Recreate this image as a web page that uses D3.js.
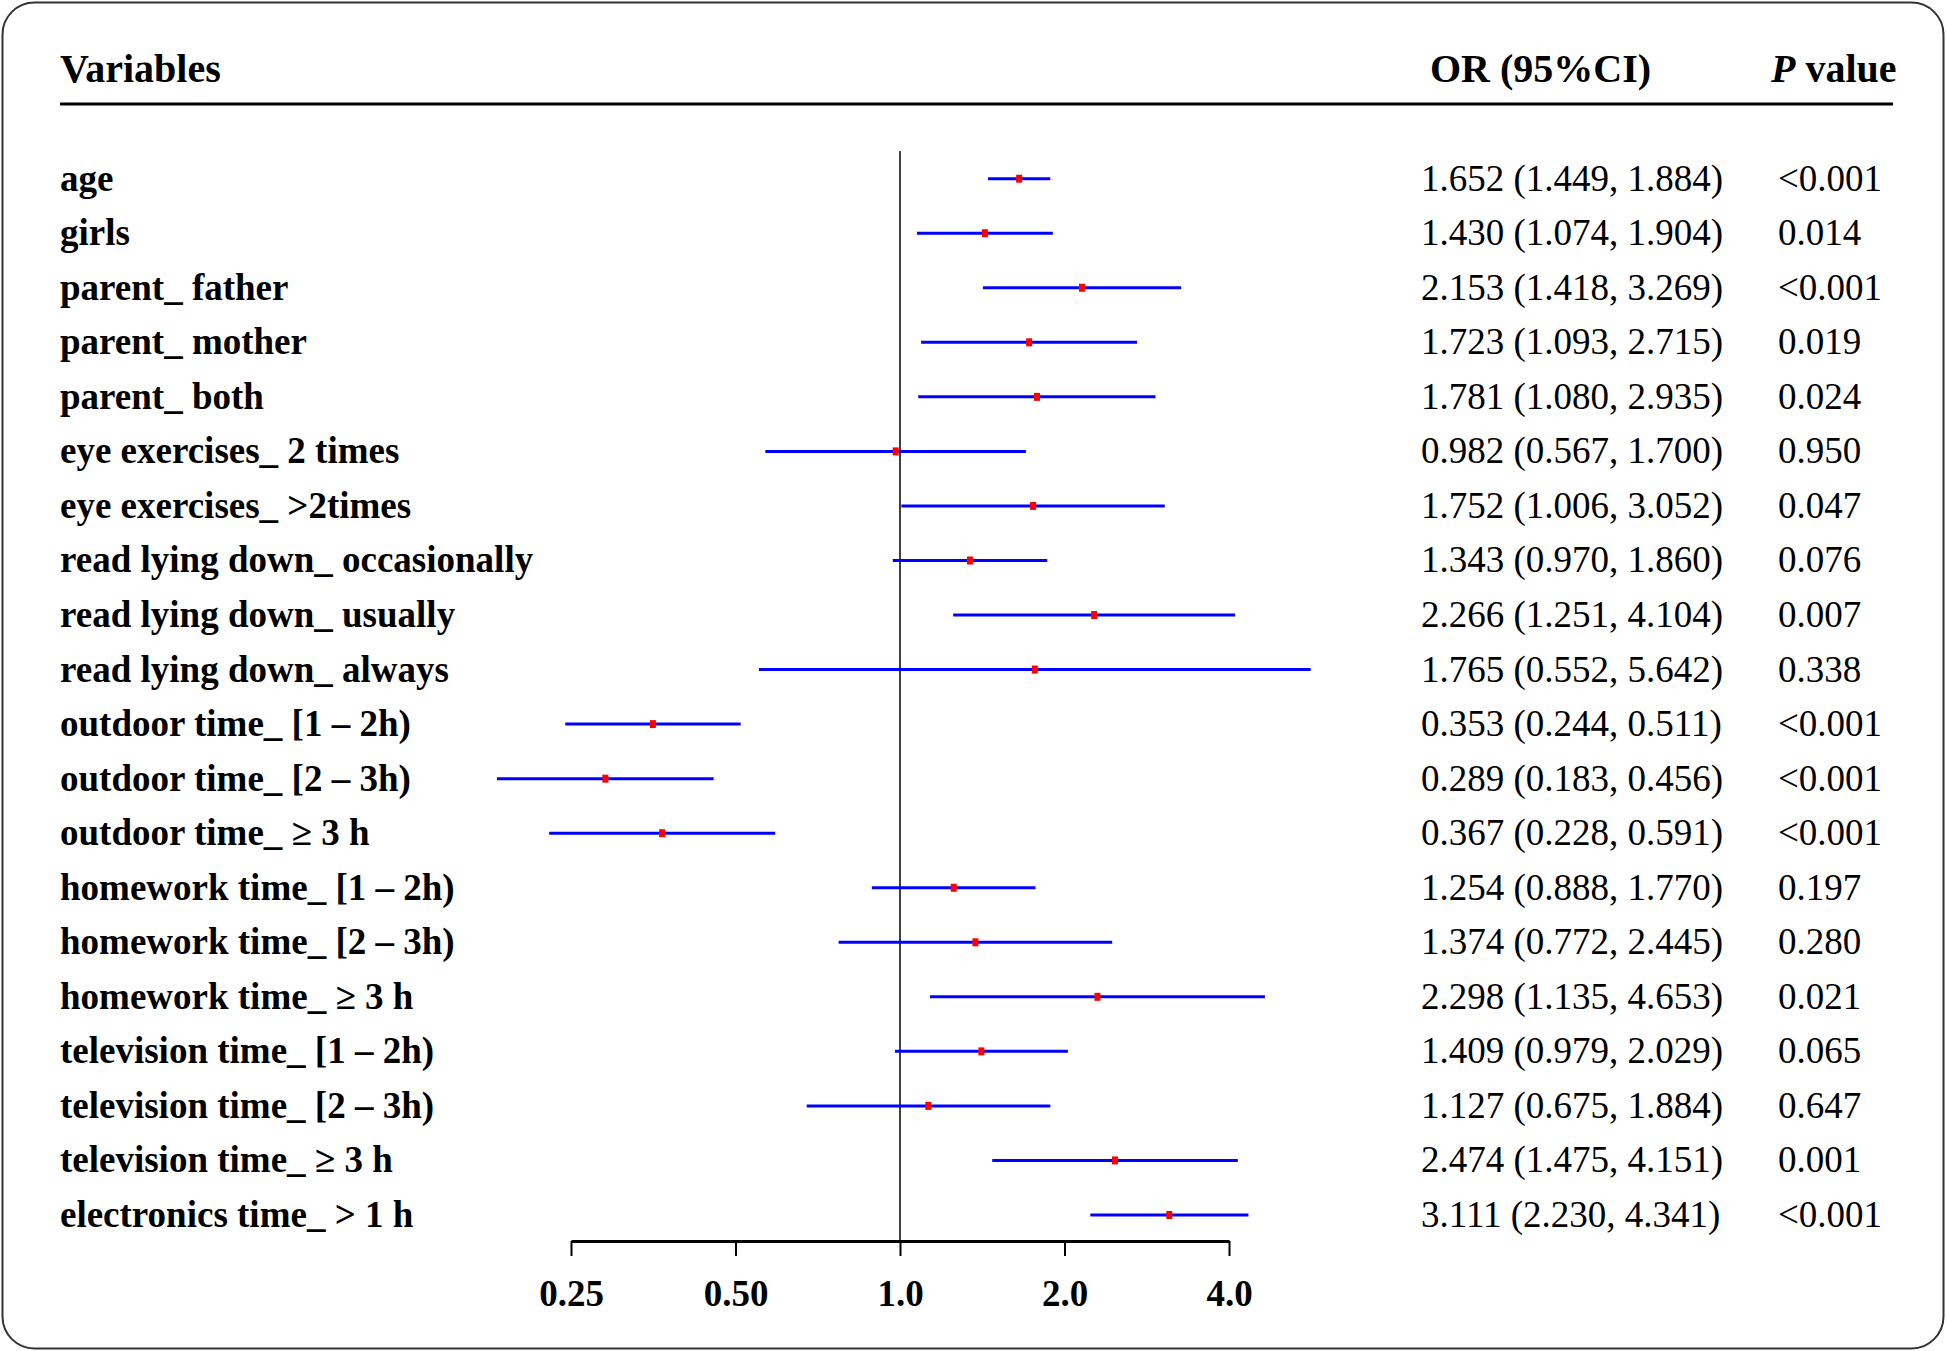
<!DOCTYPE html>
<html>
<head>
<meta charset="utf-8">
<script src="https://cdn.jsdelivr.net/npm/d3@7"></script>
<style>
  html, body { margin: 0; padding: 0; background: #fff; }
  svg { display: block; }
  text { font-family: "Liberation Serif", "Times New Roman", serif; fill: #000; }
</style>
</head>
<body>
<svg id="chart" width="1946" height="1351"></svg>
<script>
const variables = [
  "age", "girls", "parent_ father", "parent_ mother", "parent_ both",
  "eye exercises_ 2 times", "eye exercises_ >2times",
  "read lying down_ occasionally", "read lying down_ usually", "read lying down_ always",
  "outdoor time_ [1 – 2h)", "outdoor time_ [2 – 3h)", "outdoor time_ ≥ 3 h",
  "homework time_ [1 – 2h)", "homework time_ [2 – 3h)", "homework time_ ≥ 3 h",
  "television time_ [1 – 2h)", "television time_ [2 – 3h)", "television time_ ≥ 3 h",
  "electronics time_ > 1 h"
];
const oddsRatio = [1.652, 1.430, 2.153, 1.723, 1.781, 0.982, 1.752, 1.343, 2.266, 1.765,
                   0.353, 0.289, 0.367, 1.254, 1.374, 2.298, 1.409, 1.127, 2.474, 3.111];
const ciLower   = [1.449, 1.074, 1.418, 1.093, 1.080, 0.567, 1.006, 0.970, 1.251, 0.552,
                   0.244, 0.183, 0.228, 0.888, 0.772, 1.135, 0.979, 0.675, 1.475, 2.230];
const ciUpper   = [1.884, 1.904, 3.269, 2.715, 2.935, 1.700, 3.052, 1.860, 4.104, 5.642,
                   0.511, 0.456, 0.591, 1.770, 2.445, 4.653, 2.029, 1.884, 4.151, 4.341];
const pValues   = ["<0.001", "0.014", "<0.001", "0.019", "0.024", "0.950", "0.047", "0.076", "0.007", "0.338",
                   "<0.001", "<0.001", "<0.001", "0.197", "0.280", "0.021", "0.065", "0.647", "0.001", "<0.001"];
const tickValues = [0.25, 0.5, 1, 2, 4];
const tickLabels = ["0.25", "0.50", "1.0", "2.0", "4.0"];

const rows = variables.map((v, i) => ({
  name: v, or: oddsRatio[i], lo: ciLower[i], hi: ciUpper[i], p: pValues[i]
}));
const fmt = d3.format(".3f");

const svg = d3.select("#chart");

// frame
svg.append("rect")
  .attr("x", 2.5).attr("y", 2.5).attr("width", 1941).attr("height", 1346)
  .attr("rx", 32).attr("ry", 32)
  .attr("fill", "#fff").attr("stroke", "#333").attr("stroke-width", 2);

const x = d3.scaleLog().base(2).domain([0.25, 4]).range([571, 1229]);
const y = d3.scalePoint().domain(variables).range([178.7, 1215]);

// header
const hy = 82;
svg.append("text").attr("x", 60).attr("y", hy)
  .attr("font-size", 40).attr("font-weight", "bold").text("Variables");
svg.append("text").attr("x", 1430).attr("y", hy)
  .attr("font-size", 40).attr("font-weight", "bold").text("OR (95%CI)");
const pv = svg.append("text").attr("x", 1771).attr("y", hy)
  .attr("font-size", 40).attr("font-weight", "bold");
pv.append("tspan").attr("font-style", "italic").text("P");
pv.append("tspan").text(" value");

svg.append("line").attr("x1", 60).attr("x2", 1893).attr("y1", 104).attr("y2", 104)
  .attr("stroke", "#000").attr("stroke-width", 3);

// reference line at OR = 1
svg.append("line")
  .attr("x1", x(1)).attr("x2", x(1)).attr("y1", 151).attr("y2", 1241)
  .attr("stroke", "#000").attr("stroke-width", 1.5);

// axis
const axis = d3.axisBottom(x)
  .tickValues(tickValues)
  .tickFormat((d, i) => tickLabels[i])
  .tickSize(15).tickSizeOuter(0).tickPadding(24);
const ax = svg.append("g").attr("transform", "translate(0,1241)").call(axis);
ax.select(".domain").attr("stroke", "#000").attr("stroke-width", 3);
ax.selectAll(".tick line").attr("stroke", "#000").attr("stroke-width", 2);
ax.selectAll(".tick text")
  .attr("font-family", "'Liberation Serif', 'Times New Roman', serif")
  .attr("font-size", 37).attr("font-weight", "bold").attr("fill", "#000");

// rows
const g = svg.append("g");
const row = g.selectAll("g.row").data(rows).join("g").attr("class", "row");

row.append("text").attr("x", 60).attr("y", d => y(d.name) + 12)
  .attr("font-size", 37).attr("font-weight", "bold").text(d => d.name);

row.append("line")
  .attr("x1", d => x(d.lo)).attr("x2", d => x(d.hi))
  .attr("y1", d => y(d.name)).attr("y2", d => y(d.name))
  .attr("stroke", "#0000ff").attr("stroke-width", 3);

row.append("rect")
  .attr("x", d => x(d.or) - 3).attr("y", d => y(d.name) - 4)
  .attr("width", 6).attr("height", 8).attr("fill", "#ff0000");

row.append("text").attr("x", 1421).attr("y", d => y(d.name) + 12)
  .attr("font-size", 37)
  .text(d => `${fmt(d.or)} (${fmt(d.lo)}, ${fmt(d.hi)})`);

row.append("text").attr("x", 1778).attr("y", d => y(d.name) + 12)
  .attr("font-size", 37).text(d => d.p);
</script>
</body>
</html>
